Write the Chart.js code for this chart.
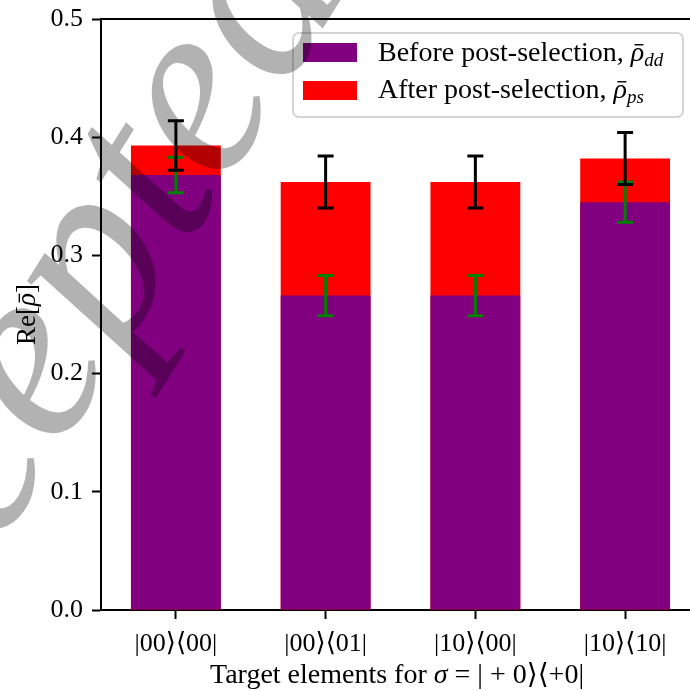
<!DOCTYPE html>
<html>
<head>
<meta charset="utf-8">
<script src="https://cdn.jsdelivr.net/npm/chart.js@4.4.1/dist/chart.umd.min.js"></script>
<style>
  html, body { margin: 0; padding: 0; background: #ffffff; overflow: hidden; }
  #wrap { width: 690px; height: 691px; overflow: hidden; }
  canvas { display: block; }
</style>
</head>
<body>
<div id="wrap"><canvas id="c" width="700" height="691"></canvas></div>
<script>
// Target density-matrix elements
const categories = ['|00⟩⟨00|', '|00⟩⟨01|', '|10⟩⟨00|', '|10⟩⟨10|'];

// Re[rho] before post-selection (rho_dd) and its uncertainty
const beforePS    = [0.368, 0.266, 0.266, 0.345];
const beforePSErr = [0.015, 0.017, 0.017, 0.017];

// Re[rho] after post-selection (rho_ps) and its uncertainty
const afterPS     = [0.393, 0.362, 0.362, 0.382];
const afterPSErr  = [0.021, 0.022, 0.022, 0.022];

const yTicks = [0.0, 0.1, 0.2, 0.3, 0.4, 0.5];

const SERIF = '"Liberation Serif", "DejaVu Serif", serif';
const FS = 26;

// Draw a run of text pieces with individual styles (roman / italic / subscript)
function drawRich(ctx, parts, x, y, align, base) {
  const fs = base || FS;
  const widths = parts.map(p => {
    ctx.font = (p.italic ? 'italic ' : '') + (p.size || fs) + 'px ' + SERIF;
    return ctx.measureText(p.t).width;
  });
  const total = widths.reduce((a, b) => a + b, 0);
  let cx = align === 'center' ? x - total / 2 : x;
  parts.forEach((p, i) => {
    const size = p.size || fs;
    ctx.font = (p.italic ? 'italic ' : '') + size + 'px ' + SERIF;
    ctx.fillStyle = '#000';
    ctx.textBaseline = 'alphabetic';
    ctx.textAlign = 'left';
    ctx.fillText(p.t, cx, y + (p.dy || 0));
    if (p.bar) {
      ctx.strokeStyle = '#000';
      ctx.lineWidth = 1.4;
      ctx.beginPath();
      ctx.moveTo(cx + widths[i] * 0.28, y - size * 0.58);
      ctx.lineTo(cx + widths[i] * 0.95, y - size * 0.58);
      ctx.stroke();
    }
    cx += widths[i];
  });
}

const errorBarPlugin = {
  id: 'errorBars',
  afterDatasetsDraw(chart) {
    const ctx = chart.ctx;
    const y = chart.scales.y;
    const sets = [
      { idx: 0, vals: beforePS, errs: beforePSErr, color: '#008000' },
      { idx: 1, vals: afterPS,  errs: afterPSErr,  color: '#000000' }
    ];
    ctx.save();
    sets.forEach(s => {
      const meta = chart.getDatasetMeta(s.idx);
      meta.data.forEach((bar, i) => {
        const top = y.getPixelForValue(s.vals[i] + s.errs[i]);
        const bot = y.getPixelForValue(s.vals[i] - s.errs[i]);
        ctx.strokeStyle = s.color;
        ctx.lineWidth = 3;
        ctx.beginPath();
        ctx.moveTo(bar.x, top); ctx.lineTo(bar.x, bot);
        ctx.moveTo(bar.x - 8, top); ctx.lineTo(bar.x + 8, top);
        ctx.moveTo(bar.x - 8, bot); ctx.lineTo(bar.x + 8, bot);
        ctx.stroke();
      });
    });
    ctx.restore();
  }
};

const decorPlugin = {
  id: 'decor',
  afterDraw(chart) {
    const ctx = chart.ctx;
    const a = chart.chartArea;
    ctx.save();

    // top spine
    ctx.strokeStyle = '#000';
    ctx.lineWidth = 2;
    ctx.beginPath();
    ctx.moveTo(a.left - 1, a.top);
    ctx.lineTo(a.right, a.top);
    ctx.stroke();

    // legend
    const lx = 293, ly = 33, lw = 390, lh = 84, r = 6;
    ctx.beginPath();
    ctx.moveTo(lx + r, ly);
    ctx.arcTo(lx + lw, ly, lx + lw, ly + lh, r);
    ctx.arcTo(lx + lw, ly + lh, lx, ly + lh, r);
    ctx.arcTo(lx, ly + lh, lx, ly, r);
    ctx.arcTo(lx, ly, lx + lw, ly, r);
    ctx.closePath();
    ctx.fillStyle = 'rgba(255,255,255,0.8)';
    ctx.fill();
    ctx.strokeStyle = '#d4d4d4';
    ctx.lineWidth = 2;
    ctx.stroke();

    const ds = chart.data.datasets;
    ctx.fillStyle = ds[0].backgroundColor;
    ctx.fillRect(303, 43, 54, 19);
    ctx.fillStyle = ds[1].backgroundColor;
    ctx.fillRect(303, 81, 54, 19);
    drawRich(ctx, [
      { t: 'Before post-selection, ' },
      { t: 'ρ', italic: true, bar: true },
      { t: 'dd', italic: true, size: 19, dy: 5 }
    ], 378, 61, 'left', 28);
    drawRich(ctx, [
      { t: 'After post-selection, ' },
      { t: 'ρ', italic: true, bar: true },
      { t: 'ps', italic: true, size: 19, dy: 5 }
    ], 378, 98, 'left', 28);

    // x-axis title
    drawRich(ctx, [
      { t: 'Target elements for ' },
      { t: 'σ', italic: true },
      { t: ' = | + 0⟩⟨+0|' }
    ], 397, 683, 'center', 28);

    // y-axis title
    ctx.save();
    ctx.translate(35, (a.top + a.bottom) / 2);
    ctx.rotate(-Math.PI / 2);
    drawRich(ctx, [
      { t: 'Re[' },
      { t: 'ρ', italic: true, bar: true },
      { t: ']' }
    ], 0, 0, 'center', 27);
    ctx.restore();

    // watermark
    ctx.save();
    ctx.translate(-145, 777);
    ctx.rotate(-58 * Math.PI / 180);
    ctx.font = 'italic 255px ' + SERIF;
    ctx.fillStyle = 'rgba(0,0,0,0.3)';
    ctx.textBaseline = 'alphabetic';
    ctx.textAlign = 'left';
    ctx.fillText('Accepted', 0, 0);
    ctx.restore();

    ctx.restore();
  }
};

new Chart(document.getElementById('c'), {
  type: 'bar',
  data: {
    labels: categories,
    datasets: [
      {
        label: 'Before post-selection',
        data: beforePS,
        backgroundColor: '#800080',
        barPercentage: 0.6,
        categoryPercentage: 1.0
      },
      {
        label: 'After post-selection',
        data: afterPS,
        backgroundColor: '#ff0000',
        barPercentage: 0.6,
        categoryPercentage: 1.0
      }
    ]
  },
  options: {
    responsive: false,
    animation: false,
    devicePixelRatio: 1,
    layout: { padding: { left: 0, right: 0, top: 19, bottom: 0 } },
    plugins: { legend: { display: false }, tooltip: { enabled: false } },
    scales: {
      x: {
        stacked: true,
        offset: true,
        grid: { offset: false, drawOnChartArea: false, drawTicks: true, tickLength: 9, tickWidth: 2, tickColor: '#000' },
        border: { display: true, color: '#000', width: 2 },
        ticks: { color: '#000', font: { family: SERIF, size: FS, lineHeight: 1.0 }, padding: 12, maxRotation: 0, autoSkip: false },
        afterFit(s) { s.height = 81; }
      },
      y: {
        min: 0,
        max: 0.5,
        afterBuildTicks(s) { s.ticks = yTicks.map(v => ({ value: v })); },
        grid: { drawOnChartArea: false, drawTicks: true, tickLength: 9, tickWidth: 2, tickColor: '#000' },
        border: { display: true, color: '#000', width: 2 },
        ticks: { color: '#000', font: { family: SERIF, size: FS, lineHeight: 0.6 }, padding: 9, callback: v => Number(v).toFixed(1) },
        afterFit(s) { s.width = 101; }
      }
    }
  },
  plugins: [errorBarPlugin, decorPlugin]
});
</script>
</body>
</html>
